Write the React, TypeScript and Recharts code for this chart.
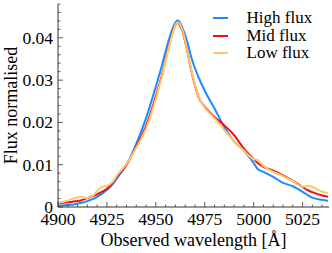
import React from 'react';
import { LineChart, Line, XAxis, YAxis } from 'recharts';

const wavelength = [4900, 4905, 4908, 4910, 4912, 4915, 4918, 4920, 4922, 4925, 4928, 4930, 4935, 4940, 4945, 4950, 4953, 4956, 4958, 4960, 4961, 4962, 4964, 4966, 4968, 4970, 4972, 4975, 4980, 4985, 4990, 4995, 5000, 5002, 5005, 5010, 5015, 5020, 5025, 5028, 5030, 5035, 5038];
const highFlux = [0.0003, 0.0005, 0.0006, 0.0008, 0.0010, 0.0014, 0.0019, 0.0024, 0.0030, 0.0040, 0.0054, 0.0067, 0.0100, 0.0149, 0.0210, 0.0285, 0.0333, 0.0385, 0.0415, 0.0436, 0.0441, 0.0438, 0.0419, 0.0392, 0.0356, 0.0328, 0.0305, 0.0275, 0.0233, 0.0189, 0.0155, 0.0133, 0.0104, 0.0090, 0.0083, 0.0071, 0.0057, 0.0049, 0.0036, 0.0027, 0.0022, 0.0017, 0.0015];
const midFlux = [0.0009, 0.0011, 0.0013, 0.0014, 0.0016, 0.0021, 0.0026, 0.0030, 0.0035, 0.0043, 0.0058, 0.0071, 0.0100, 0.0143, 0.0192, 0.0262, 0.0310, 0.0368, 0.0403, 0.0430, 0.0436, 0.0432, 0.0410, 0.0370, 0.0325, 0.0288, 0.0258, 0.0237, 0.0213, 0.0193, 0.0170, 0.0138, 0.0113, 0.0104, 0.0095, 0.0086, 0.0075, 0.0062, 0.0047, 0.0039, 0.0035, 0.0027, 0.0024];
const lowFlux = [0.0010, 0.0015, 0.0021, 0.0023, 0.0024, 0.0021, 0.0027, 0.0038, 0.0047, 0.0050, 0.0060, 0.0074, 0.0102, 0.0140, 0.0186, 0.0256, 0.0306, 0.0366, 0.0401, 0.0430, 0.0437, 0.0434, 0.0412, 0.0372, 0.0327, 0.0290, 0.0260, 0.0235, 0.0210, 0.0182, 0.0156, 0.0133, 0.0113, 0.0111, 0.0097, 0.0083, 0.0073, 0.0061, 0.0048, 0.0050, 0.0048, 0.0036, 0.0033];

const seriesNames = ['High flux', 'Mid flux', 'Low flux'];
const seriesColors = ['#1a8cff', '#ee1111', '#ffc870'];
const seriesKeys = ['high', 'mid', 'low'];

const xMajorTicks = [4900, 4925, 4950, 4975, 5000, 5025];
const yMajorTicks = [0, 0.01, 0.02, 0.03, 0.04];
const xDomain = [4900, 5038.5];
const yDomain = [0, 0.048];

const data = wavelength.map((wl, i) => ({ wl, high: highFlux[i], mid: midFlux[i], low: lowFlux[i] }));

const xTicks: number[] = [];
for (let v = 4900; v <= 5035; v += 5) xTicks.push(v);
const yTicks: number[] = [];
for (let k = 0; k <= 24; k++) yTicks.push(Math.round(k * 0.002 * 10000) / 10000);

const FONT = '"Liberation Serif"';
const AX = '#333';
const FS = 17.5;
const isMajorX = (v: number) => xMajorTicks.includes(v);
const isMajorY = (v: number) => yMajorTicks.some((m) => Math.abs(m - v) < 1e-9);

const makeTick = (side: 'bottom' | 'top' | 'left' | 'right') => (props: any) => {
  const { x, y, payload } = props;
  const v = payload.value;
  const major = side === 'bottom' || side === 'top' ? isMajorX(v) : isMajorY(v);
  const len = major ? 5 : 2.5;
  let line;
  if (side === 'bottom') line = <line x1={x} y1={y} x2={x} y2={y - len} stroke={AX} strokeWidth={0.8} />;
  else if (side === 'top') line = <line x1={x} y1={y} x2={x} y2={y + len} stroke={AX} strokeWidth={0.8} />;
  else if (side === 'left') line = <line x1={x} y1={y} x2={x + len} y2={y} stroke={AX} strokeWidth={0.8} />;
  else line = <line x1={x} y1={y} x2={x - len} y2={y} stroke={AX} strokeWidth={0.8} />;
  let label = null;
  if (major && side === 'bottom') {
    label = (
      <text x={x} y={y + 18} textAnchor="middle" fontFamily="Liberation Serif" fontSize={FS} fill="#000">
        {v}
      </text>
    );
  }
  if (major && side === 'left') {
    label = (
      <text x={x - 5} y={y + 6} textAnchor="end" fontFamily="Liberation Serif" fontSize={FS} fill="#000">
        {v === 0 ? '0' : v.toFixed(2)}
      </text>
    );
  }
  return (
    <g>
      {line}
      {label}
    </g>
  );
};

export default function App() {
  return (
    <div style={{ position: 'absolute', left: 0, top: 0, width: 332, height: 253 }}>
      <LineChart width={332} height={253} data={data} margin={{ top: 4, right: 3, bottom: 0, left: 0 }}>
        <XAxis
          dataKey="wl"
          type="number"
          domain={xDomain}
          ticks={xTicks}
          interval={0}
          allowDataOverflow
          height={46}
          tickSize={0}
          tickMargin={0}
          tickLine={false}
          axisLine={{ stroke: AX, strokeWidth: 1 }}
          tick={makeTick('bottom')}
          label={(p: any) => {
            const vb = p.viewBox;
            return (
              <text x={vb.x + vb.width / 2} y={vb.y + 39} textAnchor="middle" fontFamily="Liberation Serif" fontSize={18} fill="#000">
                Observed wavelength [Å]
              </text>
            );
          }}
        />
        <XAxis
          xAxisId="top"
          orientation="top"
          dataKey="wl"
          type="number"
          domain={xDomain}
          ticks={xTicks}
          interval={0}
          allowDataOverflow
          height={0}
          tickSize={0}
          tickMargin={0}
          tickLine={false}
          axisLine={{ stroke: AX, strokeWidth: 1 }}
          tick={makeTick('top')}
        />
        <YAxis
          type="number"
          domain={yDomain}
          ticks={yTicks}
          interval={0}
          allowDataOverflow
          width={58}
          tickSize={0}
          tickMargin={0}
          tickLine={false}
          axisLine={{ stroke: AX, strokeWidth: 1 }}
          tick={makeTick('left')}
          label={(p: any) => {
            const vb = p.viewBox;
            const cx = vb.x + 17;
            const cy = vb.y + vb.height / 2;
            return (
              <text x={cx} y={cy} transform={`rotate(-90, ${cx}, ${cy})`} textAnchor="middle" fontFamily="Liberation Serif" fontSize={18} fill="#000">
                Flux normalised
              </text>
            );
          }}
        />
        <YAxis
          yAxisId="right"
          orientation="right"
          type="number"
          domain={yDomain}
          ticks={yTicks}
          interval={0}
          allowDataOverflow
          width={0}
          tickSize={0}
          tickMargin={0}
          tickLine={false}
          axisLine={{ stroke: AX, strokeWidth: 1 }}
          tick={makeTick('right')}
        />
        {seriesKeys.map((k, i) => (
          <Line
            key={k}
            dataKey={k}
            name={seriesNames[i]}
            type="monotone"
            stroke={seriesColors[i]}
            strokeWidth={2}
            dot={false}
            isAnimationActive={false}
          />
        ))}
      </LineChart>
      <div style={{ position: 'absolute', left: 212.5, top: 9, fontFamily: FONT, fontSize: 17, lineHeight: '17.5px', color: '#000' }}>
        {seriesNames.map((n, i) => (
          <div key={n} style={{ display: 'flex', alignItems: 'center', whiteSpace: 'nowrap', height: 17.5 }}>
            <svg width={34} height={17.5} style={{ display: 'block' }}>
              <line x1={0} y1={9} x2={15} y2={9} stroke={seriesColors[i]} strokeWidth={2} />
            </svg>
            <span style={{ fontFamily: FONT }}>{n}</span>
          </div>
        ))}
      </div>
    </div>
  );
}
